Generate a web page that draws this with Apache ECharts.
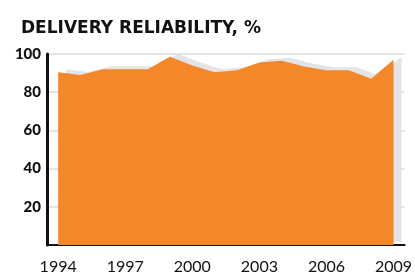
<!DOCTYPE html>
<html>
<head>
<meta charset="utf-8">
<script src="https://cdn.jsdelivr.net/npm/echarts@6/dist/echarts.min.js"></script>
<style>
  html, body { margin: 0; padding: 0; background: #fff; }
  #chart { width: 415px; height: 275px; }
</style>
</head>
<body>
<div id="chart"></div>
<script>
// delivery reliability per year, %
const years = ['1994', '1995', '1996', '1997', '1998', '1999', '2000', '2001',
  '2002', '2003', '2004', '2005', '2006', '2007', '2008', '2009']
const reliability = [90.5, 89, 92, 92, 92, 98.5, 94, 90.5, 91.5, 95.5, 96.5, 93.5, 91.5, 91.5, 87, 97]
const yTicks = [20, 40, 60, 80, 100]

const chart = echarts.init(document.getElementById('chart'))

chart.setOption({
  animation: false,
  title: {
    text: 'DELIVERY RELIABILITY, %',
    left: 16,
    top: 15,
    textStyle: {
      fontFamily: 'DejaVu Sans',
      fontWeight: 'bold',
      fontSize: 17,
      color: '#111'
    }
  },
  grid: {
    left: 47,
    right: 8,
    top: 54,
    bottom: 29
  },
  xAxis: {
    type: 'category',
    data: years,
    boundaryGap: true,
    axisLine: { lineStyle: { color: '#111', width: 2 } },
    axisTick: { show: false },
    axisLabel: {
      interval: 2,
      margin: 14,
      fontFamily: 'Lato',
      fontSize: 16,
      color: '#111'
    }
  },
  yAxis: {
    type: 'value',
    min: 0,
    max: 100,
    interval: 20,
    axisLine: { show: true, lineStyle: { color: '#111', width: 3 } },
    axisTick: { show: false },
    splitLine: { lineStyle: { color: '#dcdcdc', width: 1.5 } },
    axisLabel: {
      margin: 6,
      fontFamily: 'Lato',
      fontWeight: 900,
      fontSize: 15,
      color: '#111',
      formatter: v => (yTicks.includes(v) ? String(v) : '')
    }
  },
  series: [{
    type: 'line',
    data: reliability,
    symbol: 'none',
    lineStyle: { width: 0 },
    areaStyle: {
      color: '#f48727',
      opacity: 1,
      shadowColor: '#e4e4e6',
      shadowBlur: 0,
      shadowOffsetX: 8,
      shadowOffsetY: -3
    }
  }]
})
</script>
</body>
</html>
